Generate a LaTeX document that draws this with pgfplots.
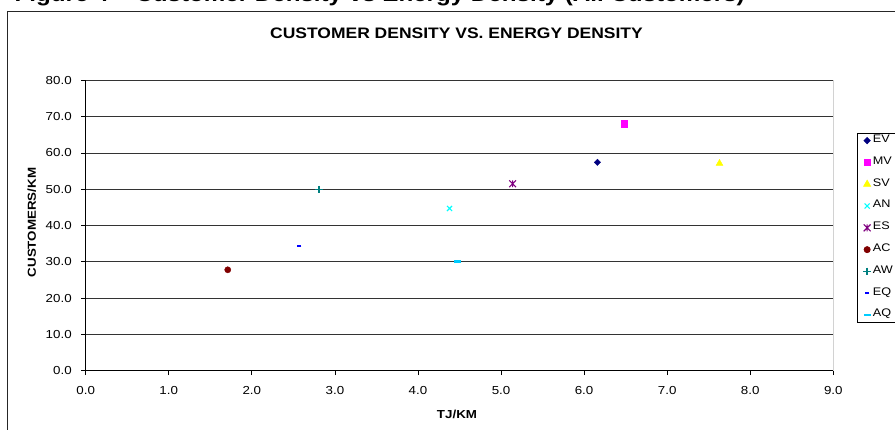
\documentclass[border=0pt]{standalone}
\usepackage{pgfplots}
\pgfplotsset{compat=1.18}
\usepackage{fontspec}
\setmainfont{Liberation Sans}[FakeStretch=1.15]
\definecolor{cEV}{HTML}{000080}
\definecolor{cMV}{HTML}{FF00FF}
\definecolor{cSV}{HTML}{FFFF00}
\definecolor{cAN}{HTML}{00FFFF}
\definecolor{cES}{HTML}{800080}
\definecolor{cAC}{HTML}{800000}
\definecolor{cAW}{HTML}{008080}
\definecolor{cEQ}{HTML}{0000FF}
\definecolor{cAQ}{HTML}{00CCFF}
\pgfdeclareplotmark{xstar}{%
  \pgfpathmoveto{\pgfqpoint{-\pgfplotmarksize}{-\pgfplotmarksize}}%
  \pgfpathlineto{\pgfqpoint{\pgfplotmarksize}{\pgfplotmarksize}}%
  \pgfpathmoveto{\pgfqpoint{-\pgfplotmarksize}{\pgfplotmarksize}}%
  \pgfpathlineto{\pgfqpoint{\pgfplotmarksize}{-\pgfplotmarksize}}%
  \pgfpathmoveto{\pgfqpoint{0pt}{-\pgfplotmarksize}}%
  \pgfpathlineto{\pgfqpoint{0pt}{\pgfplotmarksize}}%
  \pgfusepathqstroke}
\pgfdeclareplotmark{fdiamond}{%
  \pgfpathmoveto{\pgfqpoint{0pt}{\pgfplotmarksize}}%
  \pgfpathlineto{\pgfqpoint{\pgfplotmarksize}{0pt}}%
  \pgfpathlineto{\pgfqpoint{0pt}{-\pgfplotmarksize}}%
  \pgfpathlineto{\pgfqpoint{-\pgfplotmarksize}{0pt}}%
  \pgfpathclose
  \pgfusepathqfillstroke}
\begin{document}
\begin{tikzpicture}
\begin{axis}[
  at={(85.7bp,-370.7bp)}, anchor=south west,
  width=747.6bp, height=290.4bp, scale only axis,
  xmin=0, xmax=9, ymin=0, ymax=80,
  xtick={0,1,...,9}, ytick={0,10,...,80},
  axis x line*=bottom, axis y line*=left,
  axis line style={black, line width=0.8bp, -},
  ymajorgrids, grid style={black!80, line width=0.7bp},
  tick align=outside, major tick length=4.5bp,
  tick style={black, line width=0.7bp},
  ticklabel style={font=\fontsize{11.6bp}{13bp}\selectfont},
  xticklabel style={yshift=-7.5bp},
  yticklabel style={xshift=-6bp},
  /pgf/number format/.cd, fixed, fixed zerofill, precision=1, assume math mode=true,
  /pgfplots/.cd,
  legend cell align=left,
  legend image code/.code={\draw[mark repeat=2,mark phase=2] plot coordinates {(0bp,0bp)(4bp,0bp)(8bp,0bp)};},
  legend style={at={(1.0313,0.8196)}, anchor=north west, draw=black, line width=0.7bp,
    inner xsep=6.3bp, inner ysep=1.8bp, row sep=10.2bp,
    font=\fontsize{11bp}{12bp}\selectfont,
    nodes={inner xsep=2bp, inner ysep=0pt, text height=7.6bp, text depth=4bp, text width=30bp}},
]
\addplot[only marks, mark=fdiamond, mark size=3.2bp, color=cEV] coordinates {(6.16,57.4)};
\addlegendentry{EV}
\addplot[only marks, mark=square*, mark size=3.2bp, color=cMV] coordinates {(6.48,68.0)};
\addlegendentry{MV}
\addplot[only marks, mark=triangle*, mark size=4bp, color=cSV] coordinates {(7.63,57.1)};
\addlegendentry{SV}
\addplot[only marks, mark=x, mark size=3.6bp, color=cAN, mark options={line width=1.1bp}] coordinates {(4.38,44.7)};
\addlegendentry{AN}
\addplot[only marks, mark=xstar, mark size=3.4bp, color=cES, mark options={line width=1.1bp}] coordinates {(5.14,51.5)};
\addlegendentry{ES}
\addplot[only marks, mark=*, mark size=3.1bp, color=cAC] coordinates {(1.71,27.8)};
\addlegendentry{AC}
\addplot[only marks, mark=+, mark size=3.8bp, color=cAW, mark options={line width=1.5bp}] coordinates {(2.81,49.9)};
\addlegendentry{AW}
\addplot[only marks, mark=-, mark size=2.2bp, color=cEQ, mark options={line width=2.2bp}] coordinates {(2.57,34.3)};
\addlegendentry{EQ}
\addplot[only marks, mark=-, mark size=3.6bp, color=cAQ, mark options={line width=2.4bp}] coordinates {(4.48,30.1)};
\addlegendentry{AQ}
\draw[gray, line width=0.8bp] (rel axis cs:1,0) -- (rel axis cs:1,1);
\end{axis}
\draw[black!85, line width=1.3bp] (7.5bp,-445bp) -- (7.5bp,-11.5bp) -- (905bp,-11.5bp);
\node[font=\bfseries\fontsize{15.2bp}{17bp}\selectfont] at (456.5bp,-33bp) {CUSTOMER DENSITY VS. ENERGY DENSITY};
\node[font=\bfseries\fontsize{11.6bp}{13bp}\selectfont] at (457bp,-414bp) {TJ/KM};
\node[font=\bfseries\fontsize{11.6bp}{13bp}\selectfont, rotate=90] at (31.7bp,-222.5bp) {CUSTOMERS/KM};
\node[anchor=base east, inner sep=0pt, font=\bfseries\fontsize{21bp}{24bp}\selectfont] at (745bp,-1bp) {Figure 4 – Customer Density vs Energy Density (All Customers)};
\pgfresetboundingbox
\path[use as bounding box] (0bp,0bp) rectangle (895bp,-430bp);
\end{tikzpicture}
\end{document}
